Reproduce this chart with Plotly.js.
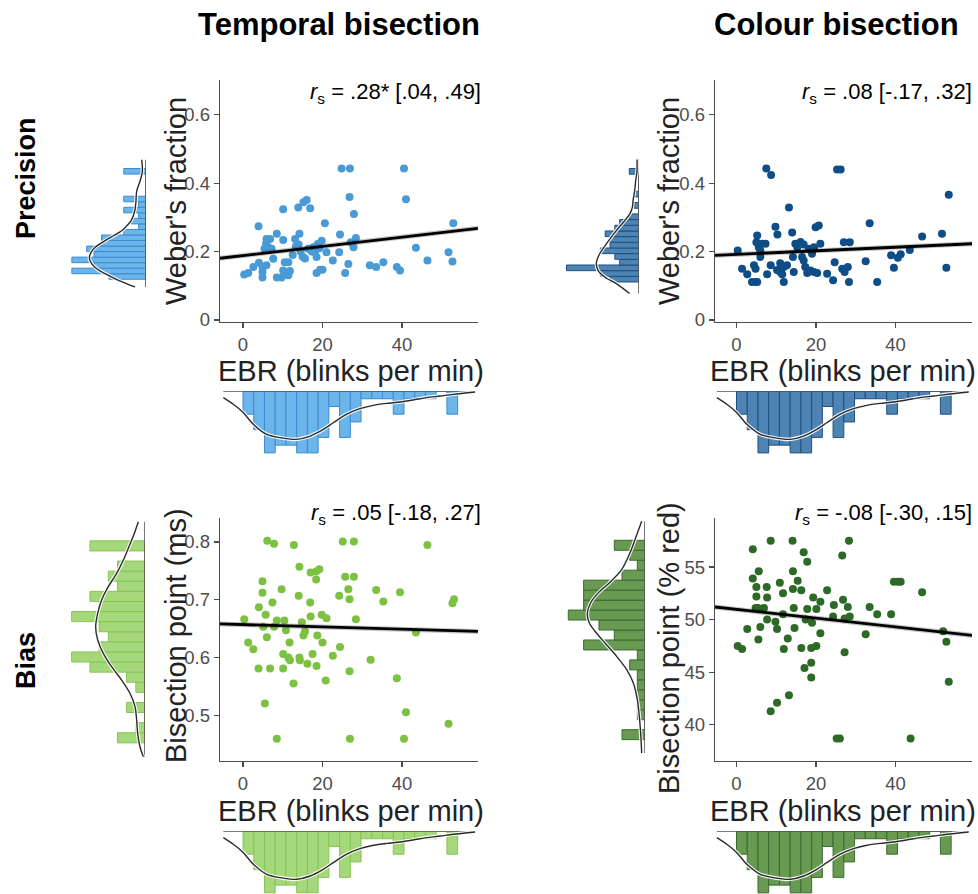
<!DOCTYPE html>
<html><head><meta charset="utf-8">
<script src="https://cdn.plot.ly/plotly-3.0.1.min.js"></script>
<style>html,body{margin:0;padding:0;background:#fff}#chart{width:978px;height:894px}</style>
</head><body><div id="chart"></div>
<script>
// ---------- DATA ----------
// Temporal precision (Weber's fraction) vs EBR
const tpX = [0.3,1.3,2.6,3.9,4.0,4.9,4.9,4.9,5.4,5.8,5.9,6.4,6.8,5.9,7.6,7.2,8.5,8.5,9.7,10.1,10.1,10.1,10.5,11.0,11.4,11.8,11.4,13.1,12.5,13.3,13.9,14.2,14.5,15.0,15.6,15.2,16.0,14.0,16.9,16.4,17.7,18.1,18.5,18.5,17.3,18.8,19.4,20.0,19.8,20.6,21.0,19.2,22.6,24.2,24.4,24.8,25.7,26.5,26.9,26.8,27.1,27.8,27.9,28.4,31.9,33.5,35.3,38.7,39.5,40.5,41.0,43.5,46.4,51.7,52.7,52.9];
const tpY = [0.133,0.137,0.155,0.274,0.167,0.155,0.140,0.124,0.208,0.223,0.237,0.213,0.237,0.160,0.179,0.208,0.252,0.124,0.124,0.324,0.234,0.145,0.169,0.135,0.169,0.143,0.131,0.237,0.190,0.215,0.329,0.252,0.200,0.185,0.180,0.344,0.351,0.221,0.327,0.208,0.213,0.198,0.184,0.137,0.200,0.222,0.147,0.147,0.232,0.283,0.198,0.210,0.174,0.198,0.250,0.443,0.137,0.164,0.443,0.360,0.227,0.213,0.310,0.240,0.160,0.155,0.169,0.155,0.145,0.443,0.353,0.211,0.174,0.198,0.171,0.283];
const tpFitX = [-5.8, 59.1];
const tpFitY = [0.1805, 0.268];

// Colour precision (Weber's fraction) vs EBR
const cpX = [0.3,1.4,2.7,3.9,4.8,5.2,4.4,4.8,5.2,5.0,5.6,6.0,6.0,6.5,7.3,7.5,8.7,7.7,8.6,9.8,10.3,10.2,11.0,11.0,11.5,11.9,11.9,12.7,13.2,14.0,14.2,14.4,14.8,15.3,16.1,16.9,16.5,16.9,17.3,17.8,18.6,19.5,20.3,18.2,19.0,19.5,19.9,20.7,21.1,22.8,24.3,24.7,25.3,26.2,26.6,27.2,28.0,27.0,28.5,28.3,32.5,33.5,35.4,38.9,39.6,40.6,41.3,43.6,46.7,51.7,52.8,53.4];
const cpY = [0.203,0.150,0.134,0.111,0.111,0.111,0.160,0.150,0.247,0.227,0.213,0.203,0.184,0.223,0.223,0.443,0.424,0.134,0.160,0.273,0.250,0.146,0.166,0.140,0.134,0.111,0.155,0.160,0.329,0.256,0.184,0.140,0.223,0.213,0.228,0.221,0.184,0.174,0.155,0.137,0.145,0.140,0.137,0.208,0.194,0.213,0.271,0.276,0.223,0.135,0.116,0.169,0.440,0.440,0.150,0.140,0.155,0.227,0.227,0.111,0.172,0.283,0.111,0.189,0.153,0.182,0.192,0.205,0.244,0.252,0.153,0.366];
const cpFitX = [-5.4, 59.3];
const cpFitY = [0.189, 0.223];

// Temporal bias (bisection point, ms) vs EBR
const tbX = [0.3,1.3,2.6,3.9,4.0,4.9,4.9,5.1,5.5,5.7,6.0,6.1,6.8,7.4,7.8,7.8,8.5,8.5,9.7,10.1,10.1,10.4,10.8,11.4,11.7,11.8,12.7,12.8,14.0,14.2,14.2,14.3,14.8,15.2,15.6,16.2,16.9,17.0,17.0,18.4,19.2,17.5,18.4,18.7,18.5,19.8,21.0,20.0,20.8,22.6,24.2,24.4,25.1,25.7,26.5,26.8,26.8,26.9,27.9,27.9,28.4,32.1,33.5,35.3,38.7,39.5,40.5,41.0,43.5,46.4,51.7,52.7,53.1];
const tbY = [0.666,0.626,0.614,0.581,0.687,0.732,0.712,0.653,0.520,0.674,0.635,0.802,0.581,0.695,0.797,0.653,0.664,0.459,0.718,0.606,0.581,0.664,0.647,0.600,0.626,0.595,0.555,0.795,0.707,0.757,0.600,0.595,0.661,0.638,0.645,0.589,0.695,0.671,0.747,0.749,0.753,0.606,0.735,0.638,0.585,0.674,0.668,0.626,0.560,0.603,0.707,0.618,0.801,0.740,0.718,0.701,0.576,0.459,0.801,0.740,0.666,0.596,0.717,0.697,0.564,0.713,0.459,0.505,0.643,0.795,0.485,0.694,0.701];
const tbFitX = [-5.8, 59.1];
const tbFitY = [0.658, 0.645];

// Colour bias (bisection point, % red) vs EBR
const cbX = [0.3,1.4,2.7,4.1,4.1,5.0,5.0,4.8,5.4,6.9,5.6,5.5,6.0,7.6,7.7,7.7,8.6,8.6,9.8,10.2,10.2,10.9,11.7,11.7,11.9,12.9,13.2,14.1,14.2,14.2,14.4,14.6,15.4,16.3,16.3,16.9,17.1,17.8,17.4,17.8,18.8,20.1,18.8,18.8,19.3,21.1,19.0,20.1,21.1,22.8,24.5,24.3,25.2,26.0,26.6,26.8,27.2,27.2,28.0,28.3,28.5,32.5,33.5,35.4,38.9,39.6,40.6,41.3,43.8,46.7,52.0,52.8,53.4];
const cbY = [47.5,47.2,49.1,56.7,53.9,53.1,52.2,51.1,51.1,51.1,54.6,48.1,49.3,53.1,52.1,50.0,57.5,41.3,49.8,49.1,42.1,53.5,52.5,50.5,47.2,48.2,42.8,57.5,54.6,52.9,51.1,49.2,53.7,52.8,47.3,56.4,45.4,55.5,50.0,51.0,47.3,47.5,45.9,44.5,52.1,51.7,49.7,51.0,48.7,52.8,51.4,50.3,38.7,38.7,56.1,51.9,50.1,46.9,51.2,57.5,50.3,48.6,51.2,50.5,50.5,53.6,53.6,53.6,38.7,52.6,48.9,47.9,44.1];
const cbFitX = [-5.4, 59.3];
const cbFitY = [51.2, 48.5];

// Marginal histogram of EBR (same participants in every panel)
const ebrBinStart = 0;
const ebrBinWidth = 2.7;
const ebrCounts = [3,5,8,7,7,8,8,6,2,6,4,1,1,1,3,1,1,1,0,3];
const ebrDensX = [-4.95,-2.43,0.08,2.6,5.96,9.3,13.5,16.9,20.2,22.7,26.1,29.4,32.8,36.2,39.5,42.8,46.2,49.6,52.9,58.4];
const ebrDensY = [0.86,1.72,2.80,4.31,5.6,6.03,6.25,5.82,4.96,4.1,3.0,2.28,1.85,1.6,1.42,1.16,0.86,0.65,0.43,0.13];

// Marginal histograms of the outcome variables (counts from lowest bin upward)
const tpBinStart = 0.119, tpBinWidth = 0.0162;
const tpCounts = [5,10,7,10,7,8,6,6,3,1,2,1,3,1,3,0,0,0,0,3];
const tpDensV = [0.4686,0.4348,0.4058,0.3768,0.3478,0.3188,0.2899,0.2754,0.2609,0.2464,0.2319,0.2126,0.1932,0.1787,0.1643,0.1498,0.1353,0.1159,0.0966];
const tpDensC = [0.58,0.49,0.81,1.26,1.35,1.52,2.02,2.6,3.27,4.39,5.52,6.86,7.53,7.62,7.31,6.64,5.52,3.72,1.48];

const cpBinStart = 0.111, cpBinWidth = 0.0166;
const cpCounts = [6,8,15,4,5,8,6,6,7,5,4,2,0,1,0,1,0,0,0,2];
const cpDensV = [0.4695,0.4356,0.4066,0.3775,0.3485,0.3291,0.3098,0.2904,0.2614,0.2227,0.1936,0.1665,0.1452,0.1258,0.1065,0.0774];
const cpDensC = [0.41,0.41,0.69,0.90,1.24,1.38,1.93,2.97,4.69,6.76,8.14,8.83,8.48,7.10,4.69,1.93];

const tbBinStart = 0.452, tbBinWidth = 0.0175;
const tbCounts = [3,1,0,2,0,1,2,6,8,5,4,5,8,5,6,3,4,3,0,6];
const tbDensV = [0.8352,0.8151,0.7919,0.7688,0.7457,0.7226,0.6995,0.6764,0.6532,0.6302,0.6071,0.5839,0.5608,0.5378,0.5146,0.4915,0.4685,0.4452,0.4279];
const tbDensC = [0.73,1.16,1.75,2.36,3.09,4.0,4.73,5.16,5.38,5.16,4.55,3.64,2.55,1.64,1.09,0.91,0.8,0.55,0.18];

const cbBinStart = 38.59, cbBinWidth = 0.9475;
const cbCounts = [3,0,1,1,1,1,1,2,1,8,4,6,10,8,8,8,3,1,2,4];
const cbDensV = [59.35,57.61,56.34,54.75,53.49,52.54,51.58,50.63,49.68,48.89,47.78,46.51,45.25,43.98,42.39,40.81,39.22,37.32];
const cbDensC = [0.43,1.30,1.96,3.04,4.65,6.09,7.09,7.52,7.26,6.52,5.22,3.70,2.39,1.52,1.0,0.74,0.57,0.43];

// Text
const colTitles = ["Temporal bisection", "Colour bisection"];
const rowTitles = ["Precision", "Bias"];
const corrLabels = [
  "<i>r</i><sub>s</sub> = .28* [.04, .49]",
  "<i>r</i><sub>s</sub> = .08 [-.17, .32]",
  "<i>r</i><sub>s</sub> = .05 [-.18, .27]",
  "<i>r</i><sub>s</sub> = -.08 [-.30, .15]"
];
const xTitle = "EBR (blinks per min)";
const yTitles = ["Weber's fraction", "Weber's fraction", "Bisection point (ms)", "Bisection point (% red)"];
const xTickVals = [0, 20, 40];
const yTickSets = [[0,0.2,0.4,0.6],[0,0.2,0.4,0.6],[0.5,0.6,0.7,0.8],[40,45,50,55]];

// ---------- LAYOUT HELPERS ----------
const W = 978, H = 894;
const px = v => v / W;
const py = v => 1 - v / H;
const centers = (start, w, n) => Array.from({length: n}, (_, i) => start + (i + 0.5) * w);
const FONT = 'Liberation Sans, Arial, Helvetica, sans-serif';

const panels = [
  {x: tpX, y: tpY, fx: tpFitX, fy: tpFitY, pt: '#4A9AD6', hf: '#6BB5EA', hl: '#3C8BD0',
   cnt: tpCounts, bs: tpBinStart, bw: tpBinWidth, dv: tpDensV, dc: tpDensC,
   xa: 1, ya: 1, xm: 5, ym: 5,
   xdom: [220, 478], xr: [-5.79, 59.12], ydom: [80, 322], yr: [-0.006, 0.702],
   mdom: [60, 146], mr: [11.6, 0], edom: [391, 456], er: [8.4, 0],
   lab: [483, 93], xt: [351, 371], yt: [176, 201]},
  {x: cpX, y: cpY, fx: cpFitX, fy: cpFitY, pt: '#0E4D85', hf: '#4E84B4', hl: '#1F4F7C',
   cnt: cpCounts, bs: cpBinStart, bw: cpBinWidth, dv: cpDensV, dc: cpDensC,
   xa: 2, ya: 2, xm: 6, ym: 6,
   xdom: [715, 972], xr: [-5.41, 59.25], ydom: [80, 322], yr: [-0.006, 0.702],
   mdom: [560, 639], mr: [16.35, 0], edom: [391, 456], er: [8.4, 0],
   lab: [974, 93], xt: [843, 371], yt: [669, 201]},
  {x: tbX, y: tbY, fx: tbFitX, fy: tbFitY, pt: '#7DC142', hf: '#A5D87A', hl: '#85C455',
   cnt: tbCounts, bs: tbBinStart, bw: tbBinWidth, dv: tbDensV, dc: tbDensC,
   xa: 3, ya: 3, xm: 7, ym: 7,
   xdom: [220, 478], xr: [-5.79, 59.12], ydom: [518, 761], yr: [0.4205, 0.8416],
   mdom: [60, 145], mr: [9.27, 0], edom: [831, 894], er: [8.15, 0],
   lab: [483, 514], xt: [351, 811], yt: [176, 636]},
  {x: cbX, y: cbY, fx: cbFitX, fy: cbFitY, pt: '#2D6A27', hf: '#689A52', hl: '#3A6A30',
   cnt: cbCounts, bs: cbBinStart, bw: cbBinWidth, dv: cbDensV, dc: cbDensC,
   xa: 4, ya: 4, xm: 8, ym: 8,
   xdom: [715, 972], xr: [-5.41, 59.25], ydom: [518, 761], yr: [36.56, 59.66],
   mdom: [560, 645], mr: [11.08, 0], edom: [831, 894], er: [8.15, 0],
   lab: [974, 514], xt: [843, 811], yt: [669, 648]}
];

const axName = (k, n) => k + (n === 1 ? '' : n);
const traces = [];
const layout = {
  width: W, height: H, margin: {l: 0, r: 0, t: 0, b: 0},
  paper_bgcolor: '#fff', plot_bgcolor: 'rgba(0,0,0,0)', showlegend: false,
  font: {family: FONT, color: '#222'},
  annotations: [], barmode: 'overlay'
};

const ebrCenters = centers(ebrBinStart, ebrBinWidth, ebrCounts.length);
const densLine = {color: '#2b2b2b', width: 1.4, shape: 'spline', smoothing: 0.8};
const haloLine = {color: 'rgba(255,255,255,0.9)', width: 3.6, shape: 'spline', smoothing: 0.8};

panels.forEach((p, i) => {
  const xa = axName('x', p.xa), ya = axName('y', p.ya);
  const xm = axName('x', p.xm), ym = axName('y', p.ym);

  // left marginal histogram (horizontal) sharing the scatter's y axis
  traces.push({type: 'bar', orientation: 'h', x: p.cnt, y: centers(p.bs, p.bw, p.cnt.length),
    width: p.bw, xaxis: xm, yaxis: ya, marker: {color: p.hf, line: {color: p.hl, width: 1}}, hoverinfo: 'skip'});
  traces.push({type: 'scatter', mode: 'lines', x: [0, 0], y: [p.dv[0], p.dv[p.dv.length - 1]],
    xaxis: xm, yaxis: ya, line: {color: '#555', width: 1.6}, hoverinfo: 'skip'});
  traces.push({type: 'scatter', mode: 'lines', x: p.dc, y: p.dv, xaxis: xm, yaxis: ya, line: haloLine, hoverinfo: 'skip'});
  traces.push({type: 'scatter', mode: 'lines', x: p.dc, y: p.dv, xaxis: xm, yaxis: ya, line: densLine, hoverinfo: 'skip'});

  // bottom marginal histogram of EBR sharing the scatter's x axis
  traces.push({type: 'bar', x: ebrCenters, y: ebrCounts, width: ebrBinWidth,
    xaxis: xa, yaxis: ym, marker: {color: p.hf, line: {color: p.hl, width: 1}}, hoverinfo: 'skip'});
  traces.push({type: 'scatter', mode: 'lines', x: [ebrDensX[0], ebrDensX[ebrDensX.length - 1]], y: [0, 0],
    xaxis: xa, yaxis: ym, line: {color: '#555', width: 1.6}, hoverinfo: 'skip'});
  traces.push({type: 'scatter', mode: 'lines', x: ebrDensX, y: ebrDensY, xaxis: xa, yaxis: ym, line: haloLine, hoverinfo: 'skip'});
  traces.push({type: 'scatter', mode: 'lines', x: ebrDensX, y: ebrDensY, xaxis: xa, yaxis: ym, line: densLine, hoverinfo: 'skip'});

  // scatter points and fitted line
  traces.push({type: 'scatter', mode: 'markers', x: p.x, y: p.y, xaxis: xa, yaxis: ya,
    marker: {color: p.pt, size: 8, line: {width: 0}}, cliponaxis: false});
  traces.push({type: 'scatter', mode: 'lines', x: p.fx, y: p.fy, xaxis: xa, yaxis: ya,
    line: {color: 'rgba(0,0,0,0.22)', width: 5}, hoverinfo: 'skip'});
  traces.push({type: 'scatter', mode: 'lines', x: p.fx, y: p.fy, xaxis: xa, yaxis: ya,
    line: {color: '#000', width: 2.8}, hoverinfo: 'skip'});

  const axisStyle = {showline: true, linecolor: '#4d4d4d', linewidth: 1.3, ticks: 'outside', ticklen: 5,
    tickwidth: 1.2, tickcolor: '#4d4d4d', showgrid: false, zeroline: false,
    tickfont: {size: 18.5, color: '#4d4d4d', family: FONT}};

  layout[xa.replace('x', 'xaxis')] = Object.assign({}, axisStyle, {
    domain: [px(p.xdom[0]), px(p.xdom[1])], range: p.xr, anchor: ya,
    tickvals: xTickVals, ticktext: xTickVals.map(String)
  });
  layout[ya.replace('y', 'yaxis')] = Object.assign({}, axisStyle, {
    domain: [py(p.ydom[1]), py(p.ydom[0])], range: p.yr, anchor: xa,
    tickvals: yTickSets[i]
  });
  layout[xm.replace('x', 'xaxis')] = {domain: [px(p.mdom[0]), px(p.mdom[1])], range: p.mr, visible: false,
    anchor: ya, showgrid: false, zeroline: false};
  layout[ym.replace('y', 'yaxis')] = {domain: [py(p.edom[1]), py(p.edom[0])], range: p.er, visible: false,
    anchor: xa, showgrid: false, zeroline: false};

  // axis titles
  layout.annotations.push({text: xTitle, xref: 'paper', yref: 'paper', x: px(p.xt[0]), y: py(p.xt[1]),
    xanchor: 'center', yanchor: 'middle', showarrow: false, font: {size: 29, color: '#222', family: FONT}});
  layout.annotations.push({text: yTitles[i], xref: 'paper', yref: 'paper', x: px(p.yt[0]), y: py(p.yt[1]),
    xanchor: 'center', yanchor: 'middle', textangle: -90, showarrow: false, font: {size: 29, color: '#222', family: FONT}});

  layout.annotations.push({text: corrLabels[i], xref: 'paper', yref: 'paper', x: px(p.lab[0]), y: py(p.lab[1]),
    xanchor: 'right', yanchor: 'middle', showarrow: false, font: {size: 22, color: '#000', family: FONT}});
});

// column and row headings
layout.annotations.push({text: '<b>' + colTitles[0] + '</b>', xref: 'paper', yref: 'paper', x: px(339), y: py(25),
  xanchor: 'center', yanchor: 'middle', showarrow: false, font: {size: 31, color: '#000', family: FONT}});
layout.annotations.push({text: '<b>' + colTitles[1] + '</b>', xref: 'paper', yref: 'paper', x: px(836), y: py(25),
  xanchor: 'center', yanchor: 'middle', showarrow: false, font: {size: 31, color: '#000', family: FONT}});
layout.annotations.push({text: '<b>' + rowTitles[0] + '</b>', xref: 'paper', yref: 'paper', x: px(26), y: py(178),
  xanchor: 'center', yanchor: 'middle', textangle: -90, showarrow: false, font: {size: 27, color: '#000', family: FONT}});
layout.annotations.push({text: '<b>' + rowTitles[1] + '</b>', xref: 'paper', yref: 'paper', x: px(26), y: py(661),
  xanchor: 'center', yanchor: 'middle', textangle: -90, showarrow: false, font: {size: 27, color: '#000', family: FONT}});

Plotly.newPlot('chart', traces, layout, {displayModeBar: false, staticPlot: true});
</script></body></html>
